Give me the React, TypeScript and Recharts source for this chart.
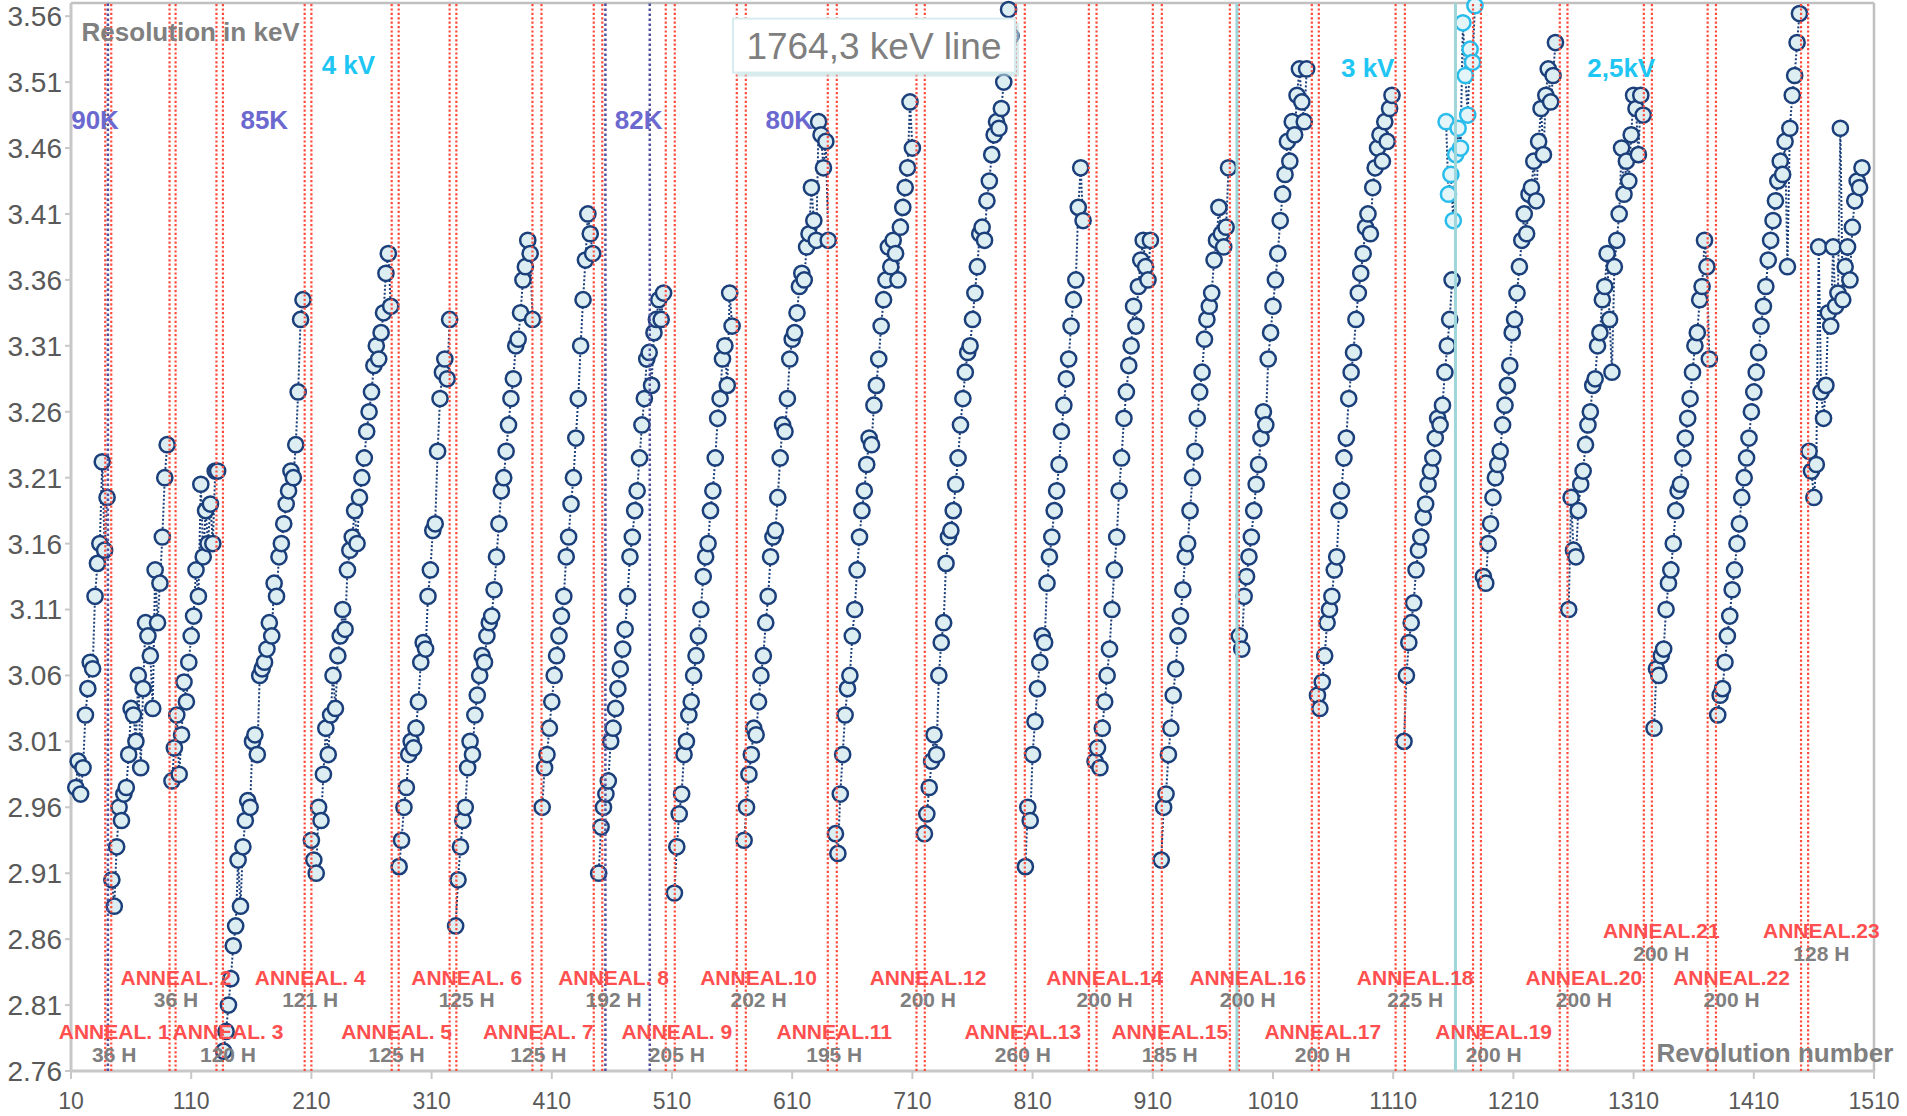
import React from 'react';
import { ComposedChart, Line, Scatter, XAxis, YAxis, ReferenceLine } from 'recharts';

// ---------- data ----------
const xTicks = [10, 110, 210, 310, 410, 510, 610, 710, 810, 910, 1010, 1110, 1210, 1310, 1410, 1510];
const yTicks = [2.76, 2.81, 2.86, 2.91, 2.96, 3.01, 3.06, 3.11, 3.16, 3.21, 3.26, 3.31, 3.36, 3.41, 3.46, 3.51, 3.56];

// first revolution of each measurement run (one value every 2 revolutions)
const segStarts = [14, 44, 94, 137, 210, 283, 330, 402, 449, 512, 570, 646, 720, 804, 862, 917, 982, 1047, 1119, 1185, 1256, 1327, 1380, 1456];
const REV_STEP = 2;

const s1 = [2.975, 2.995, 2.97, 2.99, 3.03, 3.05, 3.07, 3.065, 3.12, 3.145, 3.16, 3.222, 3.155, 3.195];
const s2 = [2.905, 2.885, 2.93, 2.96, 2.95, 2.97, 2.975, 3.0, 3.035, 3.03, 3.01, 3.06, 2.99, 3.05, 3.1, 3.09, 3.075, 3.035, 3.14, 3.1, 3.13, 3.165, 3.21, 3.235];
const s3 = [2.98, 3.005, 3.03, 2.985, 3.015, 3.055, 3.04, 3.07, 3.09, 3.105, 3.14, 3.12, 3.205, 3.15, 3.185, 3.16, 3.19, 3.16, 3.215, 3.215];
const s4 = [2.775, 2.79, 2.81, 2.83, 2.855, 2.87, 2.92, 2.885, 2.93, 2.95, 2.965, 2.96, 3.01, 3.015, 3.0, 3.06, 3.065, 3.07, 3.08, 3.1, 3.09, 3.13, 3.12, 3.15, 3.16, 3.175, 3.19, 3.2, 3.215, 3.21, 3.235, 3.275, 3.33, 3.345];
const s5 = [2.935, 2.92, 2.91, 2.96, 2.95, 2.985, 3.02, 3.0, 3.03, 3.06, 3.035, 3.075, 3.09, 3.11, 3.095, 3.14, 3.155, 3.165, 3.185, 3.16, 3.195, 3.21, 3.225, 3.245, 3.26, 3.275, 3.295, 3.31, 3.3, 3.32, 3.335, 3.365, 3.38, 3.34];
const s6 = [2.915, 2.935, 2.96, 2.975, 3.0, 3.01, 3.005, 3.02, 3.04, 3.07, 3.085, 3.08, 3.12, 3.14, 3.17, 3.175, 3.23, 3.27, 3.29, 3.3, 3.285, 3.33];
const s7 = [2.87, 2.905, 2.93, 2.95, 2.96, 2.99, 3.01, 3.0, 3.03, 3.045, 3.06, 3.075, 3.07, 3.09, 3.1, 3.105, 3.125, 3.15, 3.175, 3.2, 3.21, 3.23, 3.25, 3.27, 3.285, 3.31, 3.315, 3.335, 3.36, 3.37, 3.39, 3.38, 3.33];
const s8 = [2.96, 2.99, 3.0, 3.02, 3.04, 3.06, 3.075, 3.09, 3.105, 3.12, 3.15, 3.165, 3.19, 3.21, 3.24, 3.27, 3.31, 3.345, 3.375, 3.41, 3.395, 3.38];
const s9 = [2.91, 2.945, 2.96, 2.97, 2.98, 3.01, 3.02, 3.035, 3.05, 3.065, 3.08, 3.095, 3.12, 3.15, 3.165, 3.185, 3.2, 3.225, 3.25, 3.27, 3.3, 3.305, 3.28, 3.32, 3.33, 3.345, 3.33, 3.35];
const s10 = [2.895, 2.93, 2.955, 2.97, 3.0, 3.01, 3.03, 3.04, 3.06, 3.075, 3.09, 3.11, 3.135, 3.15, 3.16, 3.185, 3.2, 3.225, 3.255, 3.27, 3.3, 3.31, 3.28, 3.35, 3.325];
const s11 = [2.935, 2.96, 2.985, 3.0, 3.02, 3.015, 3.04, 3.06, 3.075, 3.1, 3.12, 3.15, 3.165, 3.17, 3.195, 3.225, 3.25, 3.245, 3.27, 3.3, 3.315, 3.32, 3.335, 3.355, 3.365, 3.36, 3.385, 3.395, 3.43, 3.405, 3.39, 3.48, 3.47, 3.445, 3.465, 3.39];
const s12 = [2.94, 2.925, 2.97, 3.0, 3.03, 3.05, 3.06, 3.09, 3.11, 3.14, 3.165, 3.185, 3.2, 3.22, 3.24, 3.235, 3.265, 3.28, 3.3, 3.325, 3.345, 3.36, 3.385, 3.37, 3.39, 3.38, 3.36, 3.4, 3.415, 3.43, 3.445, 3.495, 3.46];
const s13 = [2.94, 2.955, 2.975, 2.995, 3.015, 3.0, 3.06, 3.085, 3.1, 3.145, 3.165, 3.17, 3.185, 3.205, 3.225, 3.25, 3.27, 3.29, 3.305, 3.31, 3.33, 3.35, 3.37, 3.395, 3.4, 3.39, 3.42, 3.435, 3.455, 3.47, 3.48, 3.475, 3.49, 3.51, 3.535, 3.565, 3.545];
const s14 = [2.915, 2.96, 2.95, 3.0, 3.025, 3.05, 3.07, 3.09, 3.085, 3.13, 3.15, 3.165, 3.185, 3.2, 3.22, 3.245, 3.265, 3.285, 3.3, 3.325, 3.345, 3.36, 3.415, 3.445, 3.405];
const s15 = [2.995, 3.005, 2.99, 3.02, 3.04, 3.06, 3.08, 3.11, 3.14, 3.165, 3.2, 3.225, 3.255, 3.275, 3.295, 3.31, 3.34, 3.325, 3.355, 3.375, 3.39, 3.37, 3.36, 3.39];
const s16 = [2.92, 2.96, 2.97, 3.0, 3.02, 3.045, 3.065, 3.09, 3.105, 3.125, 3.15, 3.16, 3.185, 3.21, 3.23, 3.255, 3.275, 3.29, 3.315, 3.33, 3.34, 3.35, 3.375, 3.39, 3.415, 3.395, 3.385, 3.4, 3.445];
const s17 = [3.09, 3.08, 3.12, 3.135, 3.15, 3.165, 3.185, 3.205, 3.22, 3.24, 3.26, 3.25, 3.3, 3.32, 3.34, 3.36, 3.38, 3.405, 3.425, 3.44, 3.465, 3.45, 3.48, 3.47, 3.5, 3.52, 3.495, 3.48, 3.52];
const s18 = [3.045, 3.035, 3.055, 3.075, 3.1, 3.11, 3.12, 3.14, 3.15, 3.185, 3.2, 3.225, 3.24, 3.27, 3.29, 3.305, 3.33, 3.35, 3.365, 3.38, 3.4, 3.41, 3.395, 3.43, 3.445, 3.46, 3.47, 3.45, 3.48, 3.465, 3.49, 3.5];
const s19 = [3.01, 3.06, 3.085, 3.1, 3.115, 3.14, 3.155, 3.165, 3.18, 3.19, 3.205, 3.215, 3.225, 3.24, 3.255, 3.25, 3.265, 3.29, 3.31, 3.33, 3.36];
const s20 = [3.135, 3.13, 3.16, 3.175, 3.195, 3.21, 3.22, 3.23, 3.25, 3.265, 3.28, 3.295, 3.32, 3.33, 3.35, 3.37, 3.39, 3.41, 3.395, 3.425, 3.43, 3.45, 3.42, 3.465, 3.49, 3.455, 3.5, 3.52, 3.495, 3.515, 3.54];
const s21 = [3.11, 3.195, 3.155, 3.15, 3.185, 3.205, 3.215, 3.235, 3.25, 3.26, 3.28, 3.285, 3.31, 3.32, 3.345, 3.355, 3.38, 3.33, 3.29, 3.37, 3.39, 3.41, 3.46, 3.425, 3.45, 3.435, 3.47, 3.5, 3.49, 3.455, 3.5, 3.485];
const s22 = [3.02, 3.065, 3.06, 3.075, 3.08, 3.11, 3.13, 3.14, 3.16, 3.185, 3.2, 3.205, 3.225, 3.24, 3.255, 3.27, 3.29, 3.31, 3.32, 3.345, 3.355, 3.39, 3.37, 3.3];
const s23 = [3.03, 3.045, 3.05, 3.07, 3.09, 3.105, 3.125, 3.14, 3.16, 3.175, 3.195, 3.21, 3.225, 3.24, 3.26, 3.275, 3.29, 3.305, 3.325, 3.34, 3.355, 3.375, 3.39, 3.405, 3.42, 3.435, 3.45, 3.44, 3.465, 3.37, 3.475, 3.5, 3.515, 3.54, 3.562];
const s24 = [3.23, 3.215, 3.195, 3.22, 3.385, 3.275, 3.255, 3.28, 3.335, 3.325, 3.385, 3.34, 3.35, 3.475, 3.345, 3.37, 3.385, 3.36, 3.4, 3.42, 3.435, 3.43, 3.445];

// light-blue run (after the 3 kV change)
const cyanStart = 1154;
const cyanValues = [3.48, 3.425, 3.44, 3.405, 3.455, 3.475, 3.46, 3.555, 3.515, 3.485, 3.535, 3.525, 3.568];

// anneal periods (revolution numbers where each anneal starts / ends)
const annealStart = [38.5, 92, 131, 204.4, 276.8, 325, 393.9, 444.9, 504.8, 563.9, 639.6, 713.4, 796, 856.8, 910, 974.1, 1042.3, 1112, 1176.4, 1248.6, 1318.5, 1371.6, 1449.3];
const annealEnd = [43.5, 97, 136.4, 210, 282.6, 330.6, 401.4, 452, 512.3, 571.4, 647.1, 720.3, 803.5, 863.2, 917.5, 981.6, 1048.1, 1119.7, 1183, 1255, 1325.2, 1378.5, 1455.2];
const annealHours = ['36 H', '36 H', '120 H', '121 H', '125 H', '125 H', '125 H', '192 H', '205 H', '202 H', '195 H', '200 H', '260 H', '200 H', '185 H', '200 H', '200 H', '225 H', '200 H', '200 H', '200 H', '200 H', '128 H'];
const temperatureChanges = [40.7, 454.6, 491.5];
const voltageChanges = [980, 1161.8];

// ---------- layout of the annotations ----------
const annealLabelAt = [45.9, 97.3, 140.6, 209, 280.9, 339.2, 398.8, 461.4, 514, 582, 645, 723, 801.9, 869.9, 924.1, 989, 1051.4, 1128.3, 1193.6, 1268.6, 1333, 1391.5, 1466.2];
const annealRow = [0, 1, 0, 1, 0, 1, 0, 1, 0, 1, 0, 1, 0, 1, 0, 1, 0, 1, 0, 1, 2, 1, 2];
const rowNameY = [2.7898, 2.8312, 2.8666];
const rowHoursY = [2.7722, 2.8139, 2.8489];

const FONT = "'Liberation Sans', Arial, Helvetica, sans-serif";
const NAVY = '#1B3F7A';

const segmentsData = [s1, s2, s3, s4, s5, s6, s7, s8, s9, s10, s11, s12, s13, s14, s15, s16, s17, s18, s19, s20, s21, s22, s23, s24]
  .map((ys, i) => ys.map((y, j) => ({ x: segStarts[i] + REV_STEP * j, y })));
const cyanData = cyanValues.map((y, j) => ({ x: cyanStart + REV_STEP * j, y }));

type Ann = { x: number; y: number; kind: string; text: string };
const annotations: Ann[] = [];
annealLabelAt.forEach((x, i) => {
  const name = i < 9 ? `ANNEAL. ${i + 1}` : `ANNEAL.${i + 1}`;
  annotations.push({ x, y: rowNameY[annealRow[i]], kind: 'anneal', text: name });
  annotations.push({ x, y: rowHoursY[annealRow[i]], kind: 'hours', text: annealHours[i] });
});
annotations.push({ x: 18.8, y: 3.548, kind: 'titleStart', text: 'Resolution in keV' });
annotations.push({ x: 1427.5, y: 2.7737, kind: 'title', text: 'Revolution number' });
annotations.push({ x: 30, y: 3.4814, kind: 'temp', text: '90K' });
annotations.push({ x: 170.8, y: 3.4814, kind: 'temp', text: '85K' });
annotations.push({ x: 482.2, y: 3.4814, kind: 'temp', text: '82K' });
annotations.push({ x: 607.6, y: 3.4814, kind: 'temp', text: '80K' });
annotations.push({ x: 240.8, y: 3.5227, kind: 'volt', text: '4 kV' });
annotations.push({ x: 1088.8, y: 3.5205, kind: 'volt', text: '3 kV' });
annotations.push({ x: 1299.7, y: 3.5205, kind: 'volt', text: '2,5kV' });
annotations.push({ x: 678, y: 3.5377, kind: 'box', text: '1764,3 keV line' });

const navyDot = (p: any) => {
  if (p.cx == null || p.cy == null) return <g key={'n' + p.index} />;
  return <circle key={'n' + p.index} cx={p.cx} cy={p.cy} r={7.6} fill="#DDEEF3" stroke={NAVY} strokeWidth={2.5} />;
};
const cyanDot = (p: any) => {
  if (p.cx == null || p.cy == null) return <g key={'c' + p.index} />;
  return <circle key={'c' + p.index} cx={p.cx} cy={p.cy} r={7.6} fill="#E4F5FA" stroke="#2ABDEB" strokeWidth={2.5} />;
};

const renderAnnotation = (props: any) => {
  const { cx, cy, payload } = props;
  if (cx == null || cy == null) return <g />;
  const common = { fontFamily: FONT, dominantBaseline: 'central' as const };
  switch (payload.kind) {
    case 'anneal':
      return <text x={cx} y={cy} textAnchor="middle" fontSize={21} fontWeight="bold" fill="#FF4F4F" {...common}>{payload.text}</text>;
    case 'hours':
      return <text x={cx} y={cy} textAnchor="middle" fontSize={21} fontWeight="bold" fill="#7F7F7F" {...common}>{payload.text}</text>;
    case 'titleStart':
      return <text x={cx} y={cy} textAnchor="start" fontSize={26} fontWeight="bold" fill="#808080" {...common}>{payload.text}</text>;
    case 'title':
      return <text x={cx} y={cy} textAnchor="middle" fontSize={26} fontWeight="bold" fill="#808080" {...common}>{payload.text}</text>;
    case 'temp':
      return <text x={cx} y={cy} textAnchor="middle" fontSize={26} fontWeight="bold" fill="#6B69CF" {...common}>{payload.text}</text>;
    case 'volt':
      return <text x={cx} y={cy} textAnchor="middle" fontSize={26} fontWeight="bold" fill="#1FC6F4" {...common}>{payload.text}</text>;
    case 'box':
      return (
        <g>
          <rect x={cx - 141 + 4} y={cy - 27 + 4} width={282} height={54} fill="#BFDDE0" opacity={0.6} />
          <rect x={cx - 141} y={cy - 27} width={282} height={54} fill="#FFFFFF" stroke="#D6ECEE" strokeWidth={2} />
          <text x={cx} y={cy + 1} textAnchor="middle" fontSize={37} fill="#7F7F7F" {...common}>{payload.text}</text>
        </g>
      );
    default:
      return <g />;
  }
};

export default function App() {
  return (
    <div style={{ position: 'absolute', left: 0, top: 0, width: 1907, height: 1116, background: '#FFFFFF' }}>
      <ComposedChart width={1907} height={1116} margin={{ top: 3, right: 33, bottom: 0, left: 0 }}>
        <XAxis
          type="number"
          dataKey="x"
          domain={[10, 1510]}
          ticks={xTicks}
          interval={0}
          height={45}
          tickSize={8}
          tickMargin={14}
          axisLine={{ stroke: '#C8C8C8', strokeWidth: 3 }}
          tickLine={{ stroke: '#C8C8C8', strokeWidth: 2 }}
          tick={{ fill: '#595959', fontSize: 23, fontFamily: FONT }}
        />
        <YAxis
          type="number"
          dataKey="y"
          domain={[2.76, 3.57]}
          ticks={yTicks}
          interval={0}
          width={71}
          tickSize={6}
          tickMargin={3}
          tickFormatter={(v: number) => v.toFixed(2)}
          axisLine={{ stroke: '#C8C8C8', strokeWidth: 3 }}
          tickLine={{ stroke: '#C8C8C8', strokeWidth: 2 }}
          tick={{ fill: '#595959', fontSize: 28, fontFamily: FONT }}
        />
        {segmentsData.map((d, i) => (
          <Line
            key={'seg' + i}
            data={d}
            dataKey="y"
            type="linear"
            stroke={NAVY}
            strokeWidth={2}
            strokeDasharray="2 2"
            dot={navyDot}
            activeDot={false}
            isAnimationActive={false}
          />
        ))}
        <Line
          data={cyanData}
          dataKey="y"
          type="linear"
          stroke={NAVY}
          strokeWidth={2}
          strokeDasharray="2 2"
          dot={cyanDot}
          activeDot={false}
          isAnimationActive={false}
        />
        {annealStart.map((x, i) => (
          <ReferenceLine key={'as' + i} x={x} stroke="#FF4A3A" strokeWidth={2.2} strokeDasharray="2.2 2.2" zIndex={1500} />
        ))}
        {annealEnd.map((x, i) => (
          <ReferenceLine key={'ae' + i} x={x} stroke="#FF4A3A" strokeWidth={2.2} strokeDasharray="2.2 2.2" zIndex={1500} />
        ))}
        {temperatureChanges.map((x, i) => (
          <ReferenceLine key={'tc' + i} x={x} stroke="#4F4F9F" strokeWidth={2.5} strokeDasharray="2.5 2.5" zIndex={1500} />
        ))}
        {voltageChanges.map((x, i) => (
          <ReferenceLine key={'vc' + i} x={x} stroke="#9ED6DA" strokeWidth={3} zIndex={1500} />
        ))}
        <ReferenceLine y={3.57} stroke="#C0C0C0" strokeWidth={2.5} />
        <ReferenceLine x={1510} stroke="#C0C0C0" strokeWidth={2.5} />
        <Scatter data={annotations} dataKey="y" shape={renderAnnotation} isAnimationActive={false} zIndex={1600} />
      </ComposedChart>
    </div>
  );
}
